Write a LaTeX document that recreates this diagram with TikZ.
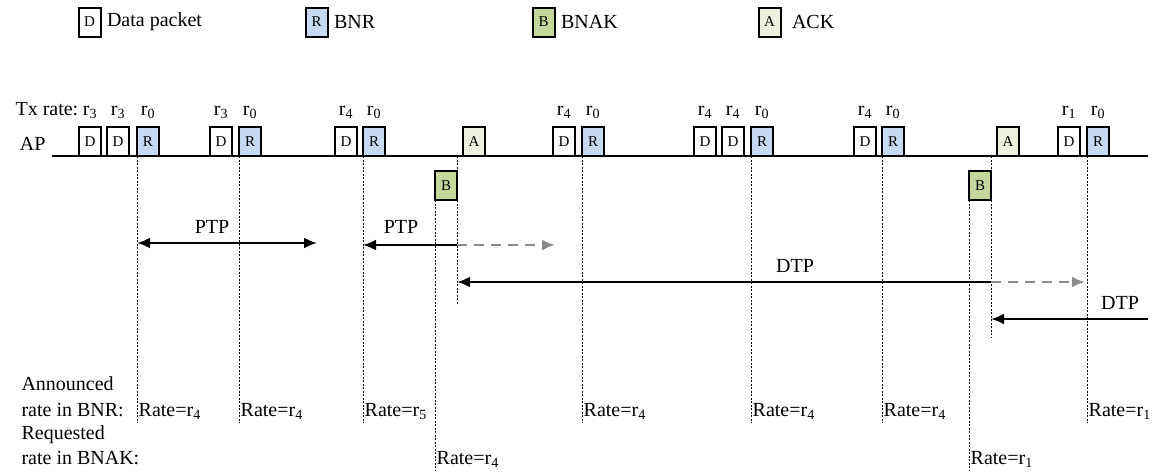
\documentclass[tikz,border=0pt]{standalone}
\usepackage{fontspec}
\setmainfont{Liberation Serif}
\usetikzlibrary{arrows.meta}
\definecolor{bnrfill}{HTML}{C6D9F1}
\definecolor{bnakfill}{HTML}{C3D69B}
\definecolor{ackfill}{HTML}{EBF1DE}
\definecolor{pendgrey}{HTML}{8C8C8C}
\tikzset{
  frame/.style={draw, line width=2, minimum width=22, minimum height=29, inner sep=0, outer sep=0, font=\fontsize{15}{15}\selectfont},
  guide/.style={line width=0.8, dash pattern=on 2 off 1.5},
  span/.style={line width=2.5},
  pending/.style={line width=2.5, draw=pendgrey, dash pattern=on 10 off 7},
  rate/.style={anchor=base west, inner sep=1.5},
  keytext/.style={anchor=west, xshift=3},
  tip/.tip={Latex[length=13,width=11]}
}
\newcommand\pkt[5]{\node[frame,fill=#3,anchor=south west] (#1) at (#2,156) {#4};
  \node[anchor=base] (#1t) at (#2+11,115) {r\textsubscript{#5}};}

\begin{document}
\begin{tikzpicture}[x=1pt,y=-1pt,font=\fontsize{20}{24}\selectfont]
\useasboundingbox (0,0) rectangle (1158,472);
% legend
\node[frame,fill=white] (keyd) at (89.5,22) {D};
\node[keytext] (keydt) at (keyd.east) {Data packet};
\node[frame,fill=bnrfill] (keyr) at (316.5,22) {R};
\node[keytext] (keyrt) at (keyr.east) {BNR};
\node[frame,fill=bnakfill] (keyb) at (543.5,22) {B};
\node[keytext] (keybt) at (keyb.east) {BNAK};
\node[frame,fill=ackfill] (keya) at (769.5,22) {A};
\node[keytext,xshift=5] (keyat) at (keya.east) {ACK};
% rows
\coordinate (apl) at (52,156);
\coordinate (apr) at (1148,156);
\coordinate (annrow) at (0,416);
\coordinate (annbot) at (0,423);
\coordinate (reqrow) at (0,464);
\coordinate (reqbot) at (0,470);
\node[anchor=base west] (txrate) at (12,115) {Tx rate:};
\node[anchor=base east] (ap) at (49,150) {AP};
\draw[line width=1.5] (apl) -- (apr);
% AP frames
\pkt{d1}{79}{white}{D}{3}
\pkt{d2}{107}{white}{D}{3}
\pkt{r1}{137}{bnrfill}{R}{0}
\pkt{d3}{210}{white}{D}{3}
\pkt{r2}{239}{bnrfill}{R}{0}
\pkt{d4}{335}{white}{D}{4}
\pkt{r3}{363}{bnrfill}{R}{0}
\node[frame,fill=ackfill,anchor=south west] (a1) at (463,156) {A};
\pkt{d5}{553}{white}{D}{4}
\pkt{r4}{582}{bnrfill}{R}{0}
\pkt{d6}{694}{white}{D}{4}
\pkt{d7}{722}{white}{D}{4}
\pkt{r5}{751}{bnrfill}{R}{0}
\pkt{d8}{854}{white}{D}{4}
\pkt{r6}{882}{bnrfill}{R}{0}
\node[frame,fill=ackfill,anchor=south west] (a2) at (997,156) {A};
\pkt{d9}{1058}{white}{D}{1}
\pkt{r7}{1087}{bnrfill}{R}{0}
% BNAK frames
\node[frame,fill=bnakfill,anchor=north west] (b1) at (435,171) {B};
\node[frame,fill=bnakfill,anchor=north west] (b2) at (969,171) {B};
% guides
\coordinate (ptpbot) at (0,305);
\coordinate (dtpbot) at (0,337);
\draw[guide] (r1.south west) -- (r1.south west |- annbot);
\draw[guide] (r2.south west) -- (r2.south west |- annbot);
\draw[guide] (r3.south west) -- (r3.south west |- annbot);
\draw[guide] (r4.south west) -- (r4.south west |- annbot);
\draw[guide] (r5.south west) -- (r5.south west |- annbot);
\draw[guide] (r6.south west) -- (r6.south west |- annbot);
\draw[guide] (r7.south west) -- (r7.south west |- annbot);
\draw[guide] (b1.north east |- apl) -- (b1.north east) (b1.south east) -- (b1.south east |- ptpbot);
\draw[guide] (b1.south west) -- (b1.south west |- reqbot);
\draw[guide] (b2.north east |- apl) -- (b2.north east) (b2.south east) -- (b2.south east |- dtpbot);
\draw[guide] (b2.south west) -- (b2.south west |- reqbot);
% protection periods
\coordinate (ptp1end) at (317,243);
\draw[span,tip-tip] (r1.south west |- ptp1end) -- (ptp1end);
\node (ptp1) at (212,227) {PTP};
\coordinate (ptp2row) at (0,245);
\coordinate (ptp2end) at (555,245);
\draw[span,-tip] (b1.east |- ptp2row) -- (r3.south west |- ptp2row);
\draw[pending,-tip] (b1.east |- ptp2row) -- (ptp2end);
\node (ptp2) at (401,227) {PTP};
\coordinate (dtp1row) at (0,282);
\coordinate (dtp1end) at (1085,282);
\draw[span,-tip] (b2.east |- dtp1row) -- (b1.east |- dtp1row);
\draw[pending,-tip] (b2.east |- dtp1row) -- (dtp1end);
\node (dtp1) at (795,266) {DTP};
\coordinate (dtp2start) at (1148,319);
\draw[span,-tip] (dtp2start) -- (b2.east |- dtp2start);
\node (dtp2) at (1120,303) {DTP};
% announced and requested rates
\node[anchor=base west] (annl1) at (18,390) {Announced};
\node[anchor=base west] (annl2) at (18,416) {rate in BNR:};
\node[rate] (ann1) at (r1.south west |- annrow) {Rate=r\textsubscript{4}};
\node[rate] (ann2) at (r2.south west |- annrow) {Rate=r\textsubscript{4}};
\node[rate] (ann3) at (r3.south west |- annrow) {Rate=r\textsubscript{5}};
\node[rate] (ann4) at (r4.south west |- annrow) {Rate=r\textsubscript{4}};
\node[rate] (ann5) at (r5.south west |- annrow) {Rate=r\textsubscript{4}};
\node[rate] (ann6) at (r6.south west |- annrow) {Rate=r\textsubscript{4}};
\node[rate] (ann7) at (r7.south west |- annrow) {Rate=r\textsubscript{1}};
\node[anchor=base west] (reql1) at (18,439) {Requested};
\node[anchor=base west] (reql2) at (18,464) {rate in BNAK:};
\node[rate] (req1) at (b1.south west |- reqrow) {Rate=r\textsubscript{4}};
\node[rate] (req2) at (b2.south west |- reqrow) {Rate=r\textsubscript{1}};
\end{tikzpicture}
\end{document}
